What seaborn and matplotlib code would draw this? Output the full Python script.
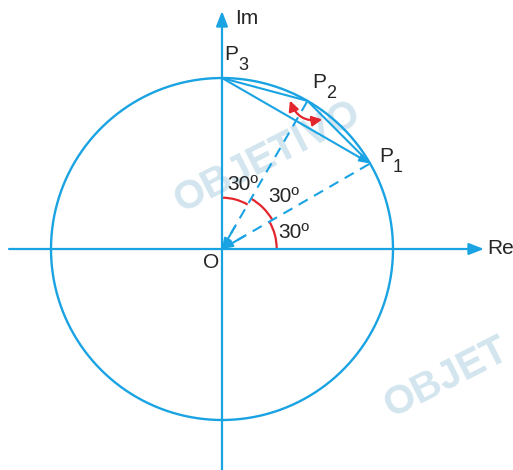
import numpy as np
import pandas as pd
import matplotlib
matplotlib.use("Agg")
import matplotlib.pyplot as plt
import seaborn as sns
from matplotlib.patches import Arc, FancyArrowPatch

# points on the unit circle (degrees) and their labels
point_angles = [30, 60, 90]
point_names = ["P", "P", "P"]
point_subs = ["1", "2", "3"]
# angle marks: (start, end, radius) and label text
arc_starts = [0, 30, 60]
arc_ends = [30, 60, 90]
arc_radii = [0.32, 0.34, 0.30]
angle_texts = ["30º", "30º", "30º"]

BLUE = "#1aa3e3"
RED = "#e3262d"
WM = "#d3e5ee"

W, H = 513, 470
R = 171.0
ox, oy = 222, 249


def px(x, y):
    # pixel position -> data coords (O is origin, radius 1)
    return (x - ox) / R, (oy - y) / R


sns.set_style("white")
plt.rcParams["font.family"] = ["Liberation Sans", "DejaVu Sans"]

fig = plt.figure(figsize=(W / 100, H / 100), dpi=100)
ax = fig.add_axes([0, 0, 1, 1])
ax.set_xlim(-ox / R, (W - ox) / R)
ax.set_ylim(-(H - oy) / R, oy / R)
ax.axis("off")

# watermarks
ax.text(*px(267, 157), "OBJETIVO", color=WM, fontsize=29, fontweight="bold",
        rotation=27, ha="center", va="center", zorder=0)
ax.text(*px(446, 378), "OBJET", color=WM, fontsize=29, fontweight="bold",
        rotation=27, ha="center", va="center", zorder=0)

# circle
theta = np.linspace(0, 2 * np.pi, 500)
circle = pd.DataFrame({"x": np.cos(theta), "y": np.sin(theta)})
sns.lineplot(data=circle, x="x", y="y", sort=False, estimator=None,
             color=BLUE, lw=1.7, ax=ax)

# axes with arrows
ax.annotate("", xy=px(484, 249), xytext=px(9, 249),
            arrowprops=dict(arrowstyle="-|>,head_length=0.9,head_width=0.35",
                            color=BLUE, lw=1.6, shrinkA=0, shrinkB=0))
ax.annotate("", xy=px(222, 11), xytext=px(222, 470),
            arrowprops=dict(arrowstyle="-|>,head_length=0.9,head_width=0.35",
                            color=BLUE, lw=1.6, shrinkA=0, shrinkB=0))

pts = pd.DataFrame({"ang": point_angles})
pts["x"] = np.cos(np.radians(pts["ang"]))
pts["y"] = np.sin(np.radians(pts["ang"]))
p1, p2, p3 = [tuple(r) for r in pts[["x", "y"]].values]

# chords
sns.lineplot(x=[p3[0], p2[0], p1[0]], y=[p3[1], p2[1], p1[1]], sort=False,
             estimator=None, color=BLUE, lw=1.5, ax=ax)
ax.annotate("", xy=p1, xytext=p3,
            arrowprops=dict(arrowstyle="-|>,head_length=0.6,head_width=0.22",
                            color=BLUE, lw=1.5, shrinkA=0, shrinkB=0))

# dashed radii to O
for p in (p1, p2):
    ax.plot([0, p[0]], [0, p[1]], color=BLUE, lw=1.5, ls=(0, (5, 3.5)))
    ax.annotate("", xy=(0, 0), xytext=(p[0] * 0.15, p[1] * 0.15),
                arrowprops=dict(arrowstyle="-|>,head_length=0.6,head_width=0.22",
                                color=BLUE, lw=1.5, shrinkA=0, shrinkB=0))

# red angle arcs
for a0, a1, r in zip(arc_starts, arc_ends, arc_radii):
    ax.add_patch(Arc((0, 0), 2 * r, 2 * r, theta1=a0, theta2=a1, color=RED, lw=1.6))

# red curved double arrow near P2
ax.add_patch(FancyArrowPatch(px(289, 98), px(325, 119),
                             connectionstyle="arc3,rad=0.45",
                             arrowstyle="<|-|>,head_length=6,head_width=3",
                             color=RED, lw=1.6, mutation_scale=1))

fs = 15
for (tx, ty), t in zip([(243, 185), (284, 197), (294, 233)], angle_texts):
    ax.text(*px(tx, ty), t, fontsize=fs, ha="center", va="center")

lab_pos = [(386, 157), (319, 83), (231, 54)]
for (lx, ly), n, s in zip(lab_pos, point_names, point_subs):
    ax.text(*px(lx, ly), n, fontsize=fs, ha="center", va="center")
    ax.text(*px(lx + 12, ly + 11), s, fontsize=13, ha="center", va="center")
ax.text(*px(211, 263), "O", fontsize=fs, ha="center", va="center")
ax.text(*px(235, 18), "Im", fontsize=fs, ha="left", va="center")
ax.text(*px(487, 249), "Re", fontsize=fs, ha="left", va="center")

fig.savefig("out.png", dpi=100)
